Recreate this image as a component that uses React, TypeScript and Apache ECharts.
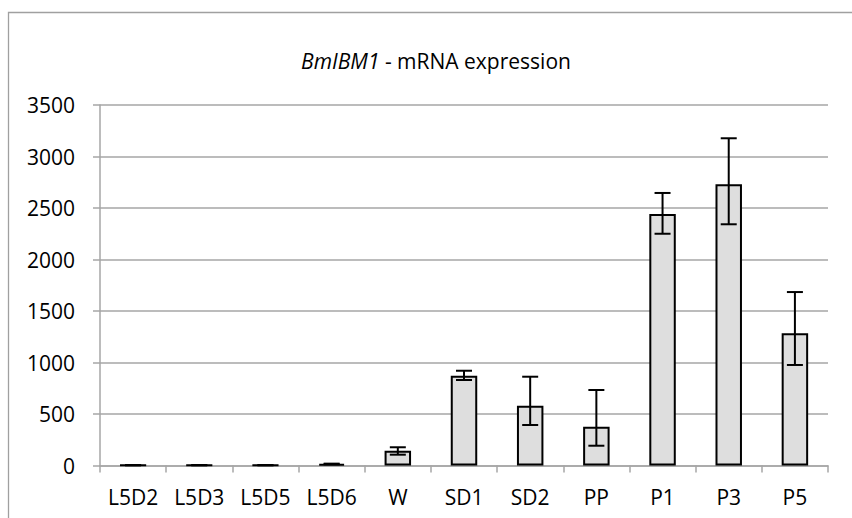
import React, { useEffect, useRef } from "react";
import * as echarts from "echarts";

const categories = ["L5D2", "L5D3", "L5D5", "L5D6", "W", "SD1", "SD2", "PP", "P1", "P3", "P5"];
const means = [3, 3, 3, 15, 144, 872, 581, 377, 2442, 2730, 1283];
const errPlus = [1, 1, 1, 3, 33, 48, 281, 356, 204, 447, 401];
const errMinus = [1, 1, 1, 3, 39, 42, 188, 185, 192, 388, 307];
const yTicks = { min: 0, max: 3500, interval: 500 };

const GRID_COLOR = "#a6a6a6";
const FONT = "'Open Sans', 'Noto Sans', sans-serif";

export default function App() {
  const ref = useRef<HTMLDivElement>(null);
  useEffect(() => {
    if (!ref.current) return;
    const chart = echarts.init(ref.current, undefined, { renderer: "svg" });
    const errData = categories.map((_, i) => [i, means[i] - errMinus[i], means[i] + errPlus[i]]);
    chart.setOption({
      animation: false,
      backgroundColor: "#ffffff",
      textStyle: { fontFamily: FONT },
      grid: { left: 100, right: 24, top: 105, bottom: 52.5 },
      graphic: [
        {
          type: "rect",
          shape: { x: 8.5, y: 12.5, width: 860, height: 530 },
          style: { fill: "none", stroke: "#a0a0a0", lineWidth: 1.3 },
          silent: true,
        },
        {
          type: "text",
          x: 436,
          y: 61,
          style: {
            text: "{i|BmIBM1} - mRNA expression",
            fontFamily: FONT,
            fontSize: 21,
            fill: "#000",
            align: "center",
            verticalAlign: "middle",
            rich: {
              i: { fontStyle: "italic", fontFamily: FONT, fontSize: 21, fill: "#000" },
            },
          },
        },
      ],
      xAxis: {
        type: "category",
        data: categories,
        boundaryGap: true,
        axisLine: { show: true, lineStyle: { color: GRID_COLOR, width: 1.5 } },
        axisTick: { show: true, length: 7, lineStyle: { color: GRID_COLOR, width: 1.5 } },
        axisLabel: { color: "#000", fontSize: 21, fontFamily: FONT, margin: 21, interval: 0 },
        splitLine: { show: false },
      },
      yAxis: {
        type: "value",
        min: yTicks.min,
        max: yTicks.max,
        interval: yTicks.interval,
        axisLine: { show: true, lineStyle: { color: GRID_COLOR, width: 1.5 } },
        axisTick: { show: true, length: 7, lineStyle: { color: GRID_COLOR, width: 1.5 } },
        axisLabel: {
          color: "#000",
          fontSize: 21,
          fontFamily: FONT,
          margin: 25,
          formatter: (v: number) => String(v),
        },
        splitLine: { show: true, lineStyle: { color: GRID_COLOR, width: 1.5 } },
      },
      series: [
        {
          type: "bar",
          data: means,
          barWidth: "40%",
          itemStyle: { color: "#dedede", borderColor: "#000", borderWidth: 2 },
          z: 2,
        },
        {
          type: "custom",
          data: errData,
          encode: { x: 0, y: [1, 2] },
          z: 3,
          renderItem: (params: any, api: any) => {
            const x = api.value(0);
            const lo = api.value(1);
            const hi = api.value(2);
            const pHi = api.coord([x, hi]);
            const pLo = api.coord([x, lo]);
            const half = 8;
            const style = { stroke: "#000", lineWidth: 2 };
            return {
              type: "group",
              children: [
                { type: "line", shape: { x1: pHi[0], y1: pHi[1], x2: pLo[0], y2: pLo[1] }, style },
                { type: "line", shape: { x1: pHi[0] - half, y1: pHi[1], x2: pHi[0] + half, y2: pHi[1] }, style },
                { type: "line", shape: { x1: pLo[0] - half, y1: pLo[1], x2: pLo[0] + half, y2: pLo[1] }, style },
              ],
            };
          },
        },
      ],
    });
    return () => chart.dispose();
  }, []);
  return (
    <div
      ref={ref}
      style={{ position: "fixed", left: 0, top: 0, width: 852, height: 518, background: "#fff" }}
    />
  );
}
